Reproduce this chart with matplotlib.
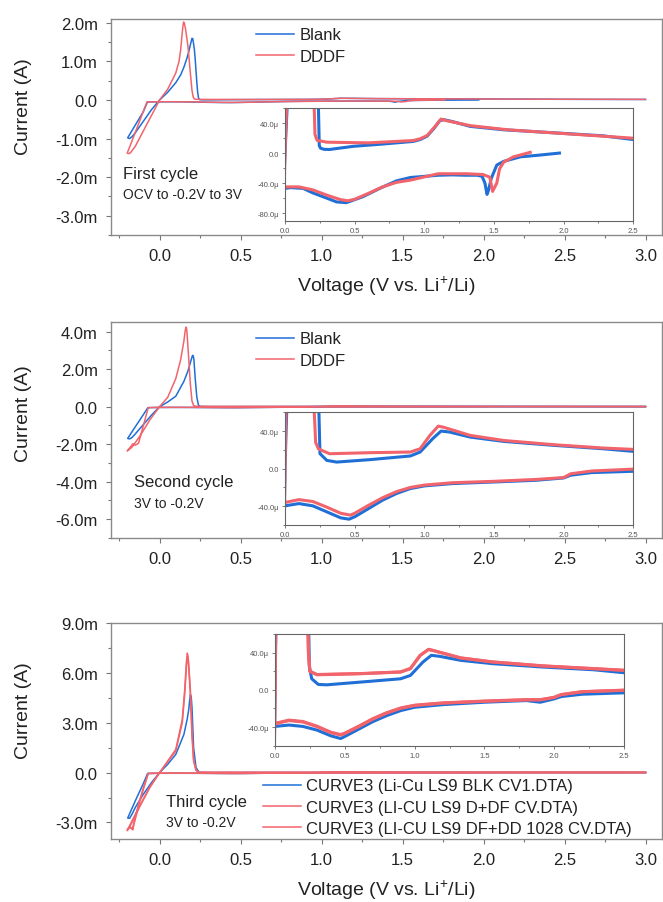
import matplotlib
matplotlib.use("Agg")
import matplotlib.pyplot as plt
from matplotlib.ticker import MultipleLocator, FuncFormatter

plt.rcParams["font.family"] = ["Liberation Sans", "DejaVu Sans"]
plt.rcParams["mathtext.default"] = "regular"

# ---- data (voltage in V, current in microamps) ----
# first cycle: OCV -> -0.2 V -> 3 V
c1_blank_cath_v = [1.97, 1.81, 1.69, 1.57, 1.52, 1.48, 1.46, 1.45, 1.435, 1.415, 1.38, 1.3, 1.2, 1.1, 1.0, 0.9,
                   0.8, 0.68, 0.56, 0.44, 0.37, 0.3, 0.2, 0.13, 0.04, 0.0, -0.04, -0.075, -0.1, -0.15, -0.197]
c1_blank_cath_i = [0, -3, -5, -11, -16, -34, -50, -55, -40, -31, -29.5, -29.5, -29, -29.5, -31, -32.5,
                   -37, -47, -58, -66, -65, -60, -53, -47, -46, -47, -48, -50, -300, -650, -980]
c1_blank_anod_v = [-0.197, -0.185, -0.17, -0.15, -0.1, -0.05, 0.0, 0.05, 0.1, 0.13, 0.15, 0.17, 0.18, 0.19,
                   0.2, 0.205, 0.21, 0.215, 0.22, 0.225, 0.23, 0.235, 0.24, 0.246, 0.255, 0.28, 0.32, 0.49,
                   0.7, 0.92, 0.97, 1.02, 1.07, 1.11, 1.14, 1.2, 1.33, 1.57, 1.93, 2.28, 2.5, 3.0]
c1_blank_anod_i = [-980, -1000, -950, -850, -550, -250, 0, 200, 450, 650, 850, 1100, 1250, 1430,
                   1600, 1590, 1450, 1300, 1050, 750, 450, 200, 60, 10, 6.5, 5, 4.8, 9,
                   12, 15.5, 18, 22.5, 33, 43, 44.5, 42, 35.5, 31, 27, 23, 18, 14]

c1_dddf_cath_v = [1.76, 1.64, 1.57, 1.54, 1.52, 1.49, 1.47, 1.42, 1.3, 1.1, 0.9, 0.8, 0.7, 0.6, 0.5, 0.45,
                  0.4, 0.3, 0.2, 0.1, 0.0, -0.04, -0.078, -0.1, -0.15, -0.2]
c1_dddf_cath_i = [1, -5, -12, -21, -40, -51, -32, -28.5, -27.5, -27.5, -36, -39, -45, -53.5, -61.5, -63.5,
                  -62, -56, -49, -45, -45, -46, -50, -290, -840, -1380]
c1_dddf_anod_v = [-0.2, -0.19, -0.18, -0.15, -0.1, -0.05, 0.0, 0.05, 0.1, 0.12, 0.13, 0.14, 0.145, 0.148,
                  0.152, 0.16, 0.175, 0.19, 0.2, 0.207, 0.215, 0.23, 0.3, 0.6, 0.92, 0.97, 1.02, 1.08,
                  1.12, 1.15, 1.33, 1.6, 2.0, 2.5, 3.0]
c1_dddf_anod_i = [-1380, -1390, -1370, -1200, -800, -400, 0, 280, 700, 1000, 1300, 1750, 1950, 2020,
                  2000, 1850, 1400, 700, 250, 80, 25, 17, 14.5, 13.6, 16.7, 19, 23.3, 36,
                  45.3, 43.5, 36.5, 31, 26, 19.8, 16]

# second cycle: 3 V -> -0.2 V -> 3 V
c2_blank_cath_v = [3.0, 2.75, 2.5, 2.2, 2.05, 2.0, 1.8, 1.5, 1.2, 1.0, 0.9, 0.8, 0.7, 0.6, 0.5, 0.46,
                   0.4, 0.3, 0.2, 0.1, 0.0, -0.04, -0.072, -0.1, -0.15, -0.197]
c2_blank_cath_i = [-1, -2, -2.8, -4.2, -7, -9.9, -12.4, -14.2, -15.9, -18.4, -21.2, -26.5, -33.6, -42.5, -51.3, -53.8,
                   -52.4, -46, -39.6, -37.2, -39.6, -45, -50, -420, -1070, -1690]
c2_blank_anod_v = [-0.197, -0.185, -0.17, -0.15, -0.1, -0.05, 0.0, 0.05, 0.1, 0.15, 0.175, 0.19, 0.2, 0.204,
                   0.208, 0.212, 0.22, 0.23, 0.24, 0.251, 0.3, 0.37, 0.61, 0.9, 0.97, 1.06, 1.12, 1.18,
                   1.33, 1.57, 1.93, 2.28, 2.5, 3.0]
c2_blank_anod_i = [-1690, -1720, -1640, -1450, -950, -450, 0, 250, 560, 1350, 1900, 2350, 2650, 2740,
                   2700, 2500, 1500, 500, 80, 16, 8.8, 7, 9.6, 13.5, 17.7, 31.9, 40, 39,
                   33.6, 29, 24.8, 21.2, 18.4, 15]

c2_dddf_cath_v = [3.0, 2.75, 2.5, 2.2, 2.05, 2.0, 1.8, 1.5, 1.2, 1.0, 0.9, 0.8, 0.7, 0.6, 0.5, 0.47,
                  0.4, 0.3, 0.2, 0.1, 0.0, -0.04, -0.07, -0.1, -0.13, -0.15, -0.165, -0.18, -0.2]
c2_dddf_cath_i = [0, 0, -0.5, -2.5, -5.5, -9.5, -11.5, -13.5, -15, -17.5, -20, -24.5, -31, -39, -47.5, -49.5,
                  -47.5, -41, -35, -33, -36, -42, -50, -1000, -1950, -2050, -1980, -2150, -2360]
c2_dddf_anod_v = [-0.2, -0.19, -0.17, -0.12, -0.06, 0.0, 0.05, 0.1, 0.13, 0.15, 0.158, 0.163, 0.168, 0.175,
                  0.19, 0.2, 0.21, 0.22, 0.24, 0.32, 0.61, 0.9, 0.97, 1.04, 1.1, 1.14, 1.33, 1.57,
                  1.93, 2.28, 2.5, 3.0]
c2_dddf_anod_i = [-2360, -2300, -2150, -1550, -700, 0, 500, 1500, 2500, 3500, 4050, 4250, 4100, 3200,
                  1200, 300, 60, 28, 21, 15.9, 17, 17.7, 21.2, 35.4, 45.3, 44, 35.4, 30,
                  25.5, 22, 20.5, 17]

# third cycle: 3 V -> -0.2 V -> 3 V
c3_blank_cath_v = [3.0, 2.75, 2.5, 2.2, 2.05, 2.0, 1.9, 1.8, 1.5, 1.2, 1.0, 0.9, 0.8, 0.7, 0.6, 0.5,
                   0.47, 0.4, 0.3, 0.2, 0.1, 0.0, -0.04, -0.074, -0.1, -0.15, -0.197]
c3_blank_cath_i = [-1.5, -2.5, -3.2, -4.7, -7.2, -9.7, -13.3, -11.5, -13.3, -15.9, -18.7, -22.3, -27.7, -34.2,
                   -42.2, -50.1, -52.3, -49.4, -43.2, -39.3, -37.8, -39.3, -45, -50, -650, -1700, -2740]
c3_blank_anod_v = [-0.197, -0.185, -0.17, -0.15, -0.1, -0.05, 0.0, 0.05, 0.1, 0.15, 0.17, 0.18, 0.186, 0.19,
                   0.195, 0.2, 0.21, 0.225, 0.24, 0.246, 0.263, 0.31, 0.37, 0.61, 0.9, 0.97, 1.06, 1.12,
                   1.18, 1.33, 1.56, 1.92, 2.28, 2.5, 3.0]
c3_blank_anod_i = [-2740, -2750, -2500, -2100, -1300, -600, 0, 500, 1100, 2300, 3200, 3800, 4400, 4700,
                   4600, 3950, 1500, 300, 80, 25, 11.9, 5.8, 5.4, 8.3, 11.9, 15.5, 29.9, 37.1,
                   36, 31.7, 28.1, 24.5, 21.6, 18.4, 15]

c3_ddf_cath_v = [3.0, 2.75, 2.5, 2.2, 2.05, 2.0, 1.9, 1.8, 1.5, 1.2, 1.0, 0.9, 0.8, 0.7, 0.6, 0.5,
                 0.47, 0.4, 0.3, 0.2, 0.1, 0.0, -0.04, -0.07, -0.1, -0.13, -0.15, -0.17, -0.185, -0.2]
c3_ddf_cath_i = [0, 0, -0.5, -2, -5, -8, -10.5, -10.5, -12, -14, -16.5, -19.5, -24.5, -31, -39, -46.5,
                 -48, -45.5, -39, -34, -32.5, -36, -42, -50, -1000, -2000, -2800, -3400, -3250, -3500]
c3_ddf_anod_v = [-0.2, -0.19, -0.17, -0.12, -0.06, 0.0, 0.05, 0.1, 0.14, 0.155, 0.165, 0.171, 0.176, 0.18,
                 0.19, 0.2, 0.21, 0.225, 0.239, 0.25, 0.3, 0.61, 0.9, 0.97, 1.04, 1.1, 1.13, 1.33,
                 1.56, 1.92, 2.28, 2.5, 3.0]
c3_ddf_anod_i = [-3500, -3350, -3000, -2000, -900, 0, 700, 1400, 3200, 5000, 6600, 7200, 7000, 6500,
                 5000, 2500, 800, 150, 40, 19.8, 16.2, 17.3, 19.1, 22.7, 37.1, 43.6, 42.5, 34.2,
                 29.9, 25.6, 22.7, 20.9, 17]

c3_dfdd_cath_v = [3.0, 2.75, 2.5, 2.2, 2.05, 2.0, 1.9, 1.8, 1.5, 1.2, 1.0, 0.9, 0.8, 0.7, 0.6, 0.5,
                  0.47, 0.4, 0.3, 0.2, 0.1, 0.0, -0.04, -0.07, -0.1, -0.13, -0.15, -0.165, -0.18, -0.2]
c3_dfdd_cath_i = [0, 0, -0.3, -2, -5.2, -8.2, -10.8, -10.8, -12.3, -14.3, -16.8, -19.8, -25, -31.5, -39.5, -47,
                  -48.5, -46, -39.5, -34.5, -33, -36.5, -42, -50, -900, -1900, -2700, -3450, -3300, -3420]
c3_dfdd_anod_v = [-0.2, -0.19, -0.17, -0.12, -0.06, 0.0, 0.05, 0.1, 0.14, 0.155, 0.166, 0.172, 0.177, 0.18,
                  0.19, 0.2, 0.21, 0.225, 0.24, 0.25, 0.3, 0.61, 0.9, 0.97, 1.04, 1.1, 1.13, 1.33,
                  1.56, 1.92, 2.28, 2.5, 3.0]
c3_dfdd_anod_i = [-3420, -3300, -2900, -1950, -850, 0, 650, 1300, 3000, 4700, 6400, 6950, 6800, 6300,
                  4700, 2200, 700, 140, 40, 20, 16.5, 17.5, 19.3, 23, 37, 43.3, 42.3, 34.4,
                  30, 25.8, 22.9, 21.1, 17]

legend_simple = ["Blank", "DDDF"]
legend_third = ["CURVE3 (Li-Cu LS9 BLK CV1.DTA)",
                "CURVE3 (LI-CU LS9 D+DF CV.DTA)",
                "CURVE3 (LI-CU LS9 DF+DD 1028 CV.DTA)"]

BLUE = "#1f6fd6"
RED = "#f2646c"

W, H = 663, 903


def fx(px):
    return px / W


def fy(py):
    return 1 - py / H


def loop(cv, ci, av, ai):
    v = list(cv) + list(av)
    i = [x * 1e-6 for x in list(ci) + list(ai)]
    return v, i


def fmt_m(v, pos):
    return "0.0" if abs(v) < 1e-12 else f"{v * 1e3:.1f}m"


def fmt_u(v, pos):
    return "0.0" if abs(v) < 1e-12 else f"{v * 1e6:.1f}\u03bc"


def style_main(ax, ylim, ymaj):
    ax.set_xlim(-0.3, 3.1)
    ax.set_ylim(*ylim)
    ax.xaxis.set_major_locator(MultipleLocator(0.5))
    ax.xaxis.set_minor_locator(MultipleLocator(0.25))
    ax.yaxis.set_major_locator(MultipleLocator(ymaj))
    ax.yaxis.set_minor_locator(MultipleLocator(ymaj / 2))
    ax.yaxis.set_major_formatter(FuncFormatter(fmt_m))
    ax.tick_params(which="both", direction="out", colors="#777777", labelcolor="#222222",
                   labelsize=12, pad=6, width=0.8)
    ax.tick_params(which="major", length=3.5)
    ax.tick_params(which="minor", length=2.5)
    for s in ax.spines.values():
        s.set_color("#8a8a8a")
        s.set_linewidth(1.0)


def style_inset(ax, ylim):
    ax.set_xlim(0, 2.5)
    ax.set_ylim(*ylim)
    ax.xaxis.set_major_locator(MultipleLocator(0.5))
    ax.xaxis.set_minor_locator(MultipleLocator(0.25))
    ax.yaxis.set_major_locator(MultipleLocator(40e-6))
    ax.yaxis.set_minor_locator(MultipleLocator(20e-6))
    ax.yaxis.set_major_formatter(FuncFormatter(fmt_u))
    ax.tick_params(which="both", direction="out", colors="#666666", labelcolor="#555555",
                   labelsize=5.5, pad=2, width=0.6)
    ax.tick_params(which="major", length=2.5)
    ax.tick_params(which="minor", length=1.5)
    for s in ax.spines.values():
        s.set_color("#666666")
        s.set_linewidth(0.8)


fig = plt.figure(figsize=(W / 100, H / 100), dpi=100)

panels = [
    dict(rect=[fx(111), fy(236), fx(661.7) - fx(111), fy(20) - fy(236)], ylim=(-3.5e-3, 2.1e-3), ymaj=1e-3,
         inset=[fx(285), fy(221.7), fx(633.3) - fx(285), fy(109) - fy(221.7)], iylim=(-90e-6, 60e-6),
         curves=[(loop(c1_blank_cath_v, c1_blank_cath_i, c1_blank_anod_v, c1_blank_anod_i), BLUE),
                 (loop(c1_dddf_cath_v, c1_dddf_cath_i, c1_dddf_anod_v, c1_dddf_anod_i), RED)],
         title=("First cycle", "OCV to -0.2V to 3V"), tpos=(122.6, 174, 195),
         leg=(256, 28.5), ylab_y=0.60, xlabel=True),
    dict(rect=[fx(111), fy(539), fx(661.7) - fx(111), fy(323.3) - fy(539)], ylim=(-7e-3, 4.5e-3), ymaj=2e-3,
         inset=[fx(285), fy(526), fx(633.3) - fx(285), fy(413.3) - fy(526)], iylim=(-60e-6, 60e-6),
         curves=[(loop(c2_blank_cath_v, c2_blank_cath_i, c2_blank_anod_v, c2_blank_anod_i), BLUE),
                 (loop(c2_dddf_cath_v, c2_dddf_cath_i, c2_dddf_anod_v, c2_dddf_anod_i), RED)],
         title=("Second cycle", "3V to -0.2V"), tpos=(134.5, 482.7, 504),
         leg=(256, 332.5), ylab_y=0.58, xlabel=False),
    dict(rect=[fx(111), fy(840), fx(661.7) - fx(111), fy(624.3) - fy(840)], ylim=(-4e-3, 9e-3), ymaj=3e-3,
         inset=[fx(275), fy(746.7), fx(624) - fx(275), fy(635) - fy(746.7)], iylim=(-60e-6, 60e-6),
         curves=[(loop(c3_blank_cath_v, c3_blank_cath_i, c3_blank_anod_v, c3_blank_anod_i), BLUE),
                 (loop(c3_ddf_cath_v, c3_ddf_cath_i, c3_ddf_anod_v, c3_ddf_anod_i), RED),
                 (loop(c3_dfdd_cath_v, c3_dfdd_cath_i, c3_dfdd_anod_v, c3_dfdd_anod_i), RED)],
         title=("Third cycle", "3V to -0.2V"), tpos=(165.8, 802.7, 823),
         leg=(263, 779.5), ylab_y=0.60, xlabel=True),
]

for k, p in enumerate(panels):
    ax = fig.add_axes(p["rect"])
    handles = []
    for (v, i), c in p["curves"]:
        h, = ax.plot(v, i, color=c, lw=1.1)
        handles.append(h)
    style_main(ax, p["ylim"], p["ymaj"])
    ax.set_ylabel("Current (A)", fontsize=14, color="#222222")
    ax.yaxis.set_label_coords(-0.143, p["ylab_y"])
    if p["xlabel"]:
        ax.set_xlabel("Voltage (V vs. Li$^{+}$/Li)", fontsize=14, color="#222222")
        ax.xaxis.set_label_coords(0.5, -0.18)

    labels = legend_third if k == 2 else legend_simple
    leg = ax.legend(handles, labels, loc="upper left", bbox_to_anchor=(fx(p["leg"][0]), fy(p["leg"][1])),
                    bbox_transform=fig.transFigure, frameon=False, fontsize=12, borderpad=0,
                    borderaxespad=0, handlelength=2.3, handletextpad=0.3, labelspacing=0.38)
    for t in leg.get_texts():
        t.set_color("#222222")

    tx, ty1, ty2 = p["tpos"]
    fig.text(fx(tx), fy(ty1), p["title"][0], fontsize=12, va="center", color="#222222")
    fig.text(fx(tx), fy(ty2), p["title"][1], fontsize=10, va="center", color="#222222")

    ins = fig.add_axes(p["inset"])
    ins.set_facecolor("white")
    for (v, i), c in p["curves"]:
        ins.plot(v, i, color=c, lw=2.2)
    style_inset(ins, p["iylim"])

fig.savefig("out.png", dpi=100)
